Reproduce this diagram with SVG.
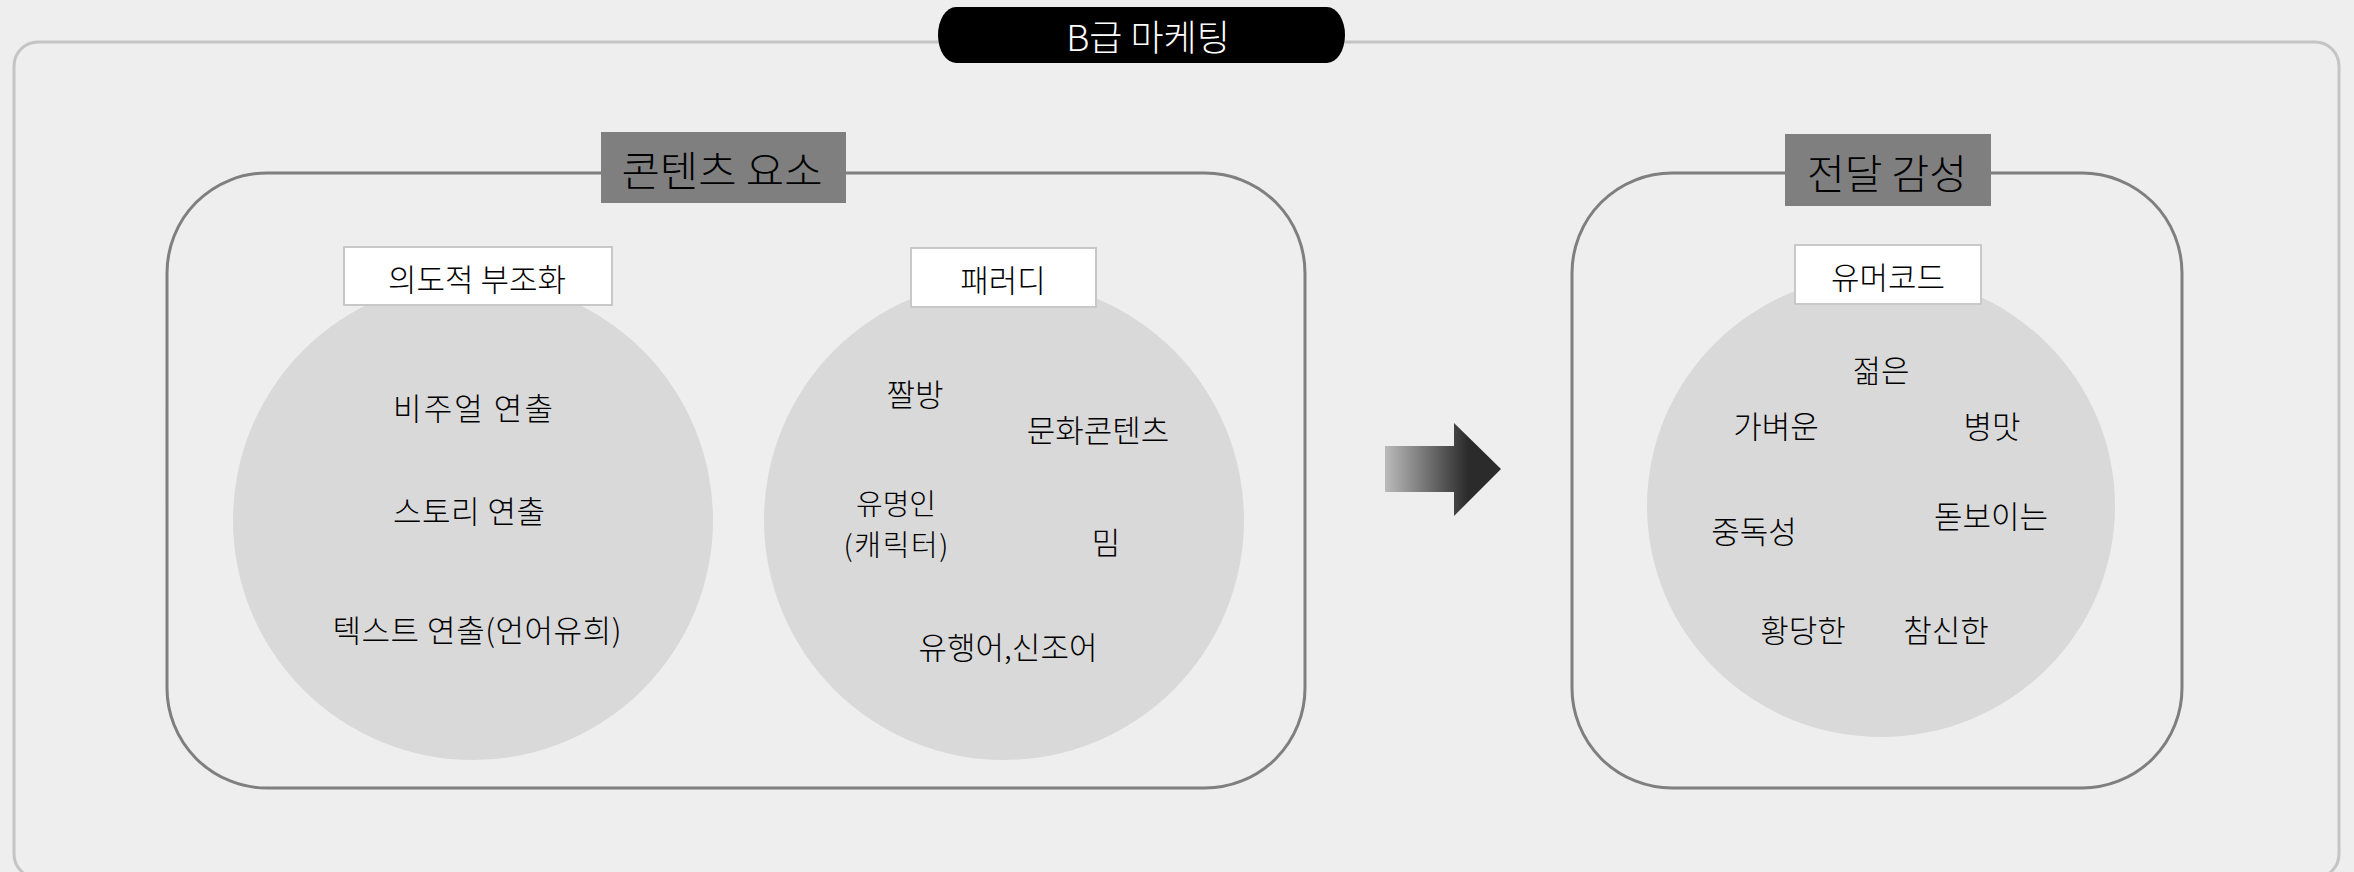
<svg xmlns="http://www.w3.org/2000/svg" width="2354" height="872" viewBox="0 0 2354 872">
<style>
.t{font-family:"Noto Sans CJK KR","Noto Sans",sans-serif;font-weight:300;fill:#000;text-anchor:middle;dominant-baseline:central}
.body{font-size:31px}
.sub{font-size:31px}
.head{font-size:41px}
.container{fill:none;stroke:#7f7f7f;stroke-width:3}
.bubble{fill:#d9d9d9}
.tag{fill:#fff;stroke:#c8c8c8;stroke-width:2}
.hbox{fill:#7f7f7f}
</style>
<defs>
<linearGradient id="ag" gradientUnits="userSpaceOnUse" x1="1385" y1="0" x2="1468" y2="0">
<stop offset="0" stop-color="#bbbbbb"/>
<stop offset="1" stop-color="#2b2b2b"/>
</linearGradient>
</defs>
<rect x="0" y="0" width="2354" height="872" fill="#eeeeee"/>
<g id="frame">
<rect x="14" y="42" width="2325" height="836" rx="24" fill="none" stroke="#c4c4c4" stroke-width="3"/>
<rect x="938" y="7" width="407" height="56" rx="18" ry="28" fill="#000"/>
<text class="t" x="1148" y="35" font-size="36" style="fill:#fff">B급 마케팅</text>
</g>
<g id="content-elements">
<rect class="container" x="167" y="173" width="1138" height="615" rx="100"/>
<rect class="hbox" x="601" y="132" width="245" height="71"/>
<text class="t head" x="722" y="168" textLength="201" lengthAdjust="spacingAndGlyphs">콘텐츠 요소</text>
</g>
<g id="intentional-mismatch">
<circle class="bubble" cx="473" cy="520" r="240"/>
<rect class="tag" x="344" y="247" width="268" height="58"/>
<text class="t sub" x="477" y="277" textLength="178">의도적 부조화</text>
<text class="t body" x="473" y="406" textLength="160">비주얼  연출</text>
<text class="t body" x="469" y="509" textLength="152">스토리 연출</text>
<text class="t body" x="477" y="628" textLength="289">텍스트 연출(언어유희)</text>
</g>
<g id="parody">
<circle class="bubble" cx="1004" cy="520" r="240"/>
<rect class="tag" x="911" y="248" width="185" height="59"/>
<text class="t sub" x="1003" y="278">패러디</text>
<text class="t body" x="915" y="392">짤방</text>
<text class="t body" x="1098" y="428">문화콘텐츠</text>
<text class="t" font-size="29" x="896" y="502"><tspan x="896" y="502">유명인</tspan><tspan x="896" y="543" textLength="105">(캐릭터)</tspan></text>
<text class="t body" x="1106" y="540">밈</text>
<text class="t body" x="1008" y="645">유행어,신조어</text>
</g>
<g id="delivered-emotion">
<rect class="container" x="1572" y="173" width="610" height="615" rx="100"/>
<rect class="hbox" x="1785" y="134" width="206" height="72"/>
<text class="t head" x="1887" y="171">전달 감성</text>
</g>
<g id="humor-code">
<ellipse class="bubble" cx="1881" cy="506" rx="234" ry="231"/>
<rect class="tag" x="1795" y="245" width="186" height="59"/>
<text class="t sub" x="1888" y="275">유머코드</text>
<text class="t body" x="1881" y="368">젊은</text>
<text class="t body" x="1776" y="424">가벼운</text>
<text class="t body" x="1992" y="424">병맛</text>
<text class="t body" x="1754" y="529">중독성</text>
<text class="t body" x="1991" y="514">돋보이는</text>
<text class="t body" x="1803" y="628">황당한</text>
<text class="t body" x="1946" y="628">참신한</text>
</g>
<g id="connectors">
<polygon points="1385,446 1454,446 1454,423 1501,469 1454,516 1454,492 1385,492" fill="url(#ag)"/>
</g>
</svg>
